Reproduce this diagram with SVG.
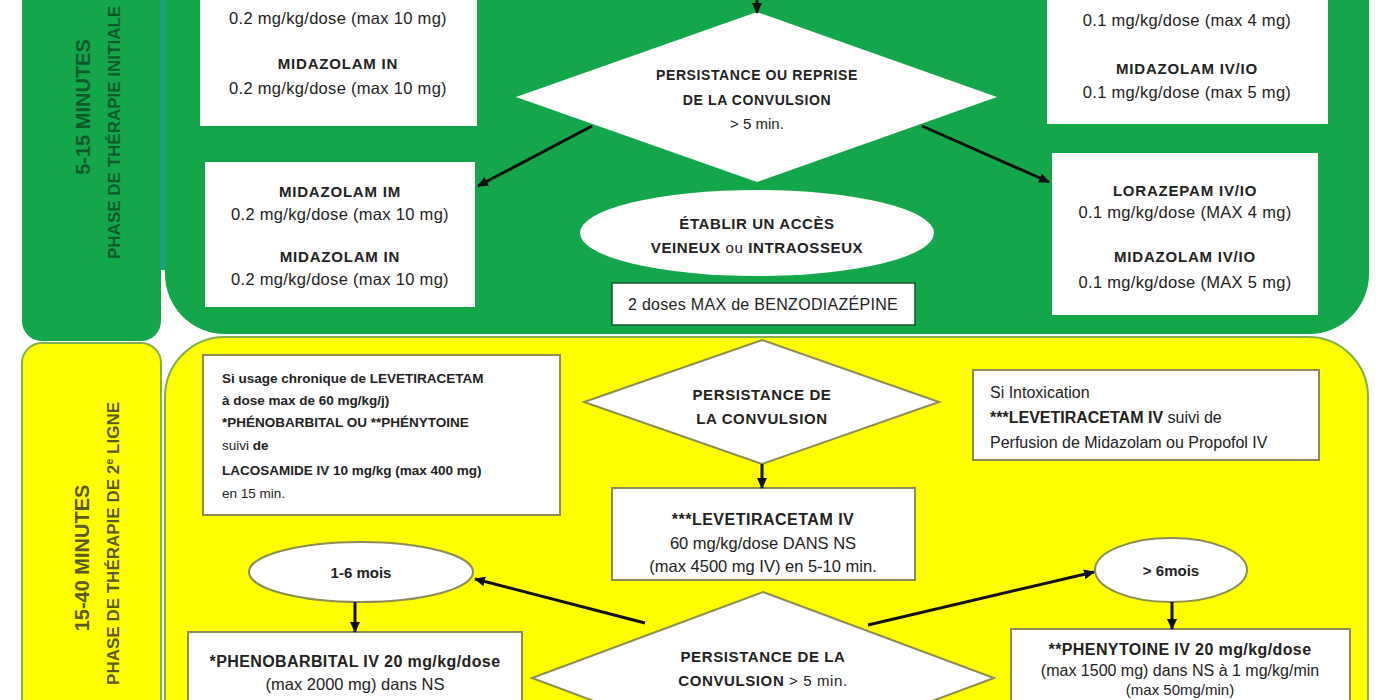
<svg xmlns="http://www.w3.org/2000/svg" width="1400" height="700" viewBox="0 0 1400 700">
<defs>
<marker id="ah" markerUnits="userSpaceOnUse" markerWidth="12" markerHeight="12" refX="10" refY="6" orient="auto">
<path d="M0,1 L11,6 L0,11 z" fill="#111"/>
</marker>
<style>
.t{font-family:"Liberation Sans",Arial,sans-serif;fill:#222;text-anchor:middle}
.b{font-weight:bold;font-size:15px;letter-spacing:0.8px}
.d{font-size:16.5px;letter-spacing:0.3px}
.q{font-weight:bold;font-size:14px;letter-spacing:0.6px}
.m{font-size:16px;letter-spacing:0.3px}
.l{font-family:"Liberation Sans",Arial,sans-serif;fill:#222;font-size:13.5px;font-weight:bold}
.r{font-family:"Liberation Sans",Arial,sans-serif;fill:#222;font-size:16px}
.lab{font-family:"Liberation Sans",Arial,sans-serif;font-weight:bold;font-size:20px}
.wb{fill:#fff}
.yb{fill:#fff;stroke:#8c8c55;stroke-width:2}
.yo{fill:#fff;stroke:#8c8c55;stroke-width:2}
.con{stroke:#111;stroke-width:3;fill:none;marker-end:url(#ah)}
</style>
</defs>
<rect width="1400" height="700" fill="#fff"/>

<!-- green phase -->
<g id="phase1">
<rect x="158" y="-10" width="9" height="280" fill="#1f9a94"/>
<rect x="22" y="-30" width="139" height="371" rx="20" fill="#14a64b"/>
<path d="M165,-10 H1369 V274 A60,60 0 0 1 1309,334 H225 A60,60 0 0 1 165,274 Z" fill="#14a64b"/>
<text class="lab" fill="#0c5a2b" text-anchor="middle" transform="translate(83,107) rotate(-90)" y="7">5-15 MINUTES</text>
<text class="lab" fill="#0c5a2b" style="font-size:17px" transform="translate(114,259) rotate(-90)" y="6">PHASE DE THÉRAPIE INITIALE</text>
</g>

<g id="box-im-in-1">
<rect class="wb" x="200" y="-10" width="277" height="136"/>
<text class="t b" x="338" y="-1">MIDAZOLAM IM</text>
<text class="t d" x="338" y="24">0.2 mg/kg/dose (max 10 mg)</text>
<text class="t b" x="338" y="69">MIDAZOLAM IN</text>
<text class="t d" x="338" y="94">0.2 mg/kg/dose (max 10 mg)</text>
</g>
<g id="box-iv-1">
<rect class="wb" x="1047" y="-10" width="281" height="134"/>
<text class="t b" x="1187" y="-1">LORAZEPAM IV/IO</text>
<text class="t d" x="1187" y="26">0.1 mg/kg/dose (max 4 mg)</text>
<text class="t b" x="1187" y="74">MIDAZOLAM IV/IO</text>
<text class="t d" x="1187" y="98">0.1 mg/kg/dose (max 5 mg)</text>
</g>
<g id="dec1">
<polygon points="757,12 997,97 757,182 516,97" fill="#fff"/>
<text class="t q" x="757" y="80">PERSISTANCE OU REPRISE</text>
<text class="t q" x="757" y="105">DE LA CONVULSION</text>
<text class="t" x="757" y="129" style="font-size:15px">&gt; 5 min.</text>
</g>
<g id="box-im-in-2">
<rect class="wb" x="205" y="162" width="270" height="145"/>
<text class="t b" x="340" y="197">MIDAZOLAM IM</text>
<text class="t d" x="340" y="220">0.2 mg/kg/dose (max 10 mg)</text>
<text class="t b" x="340" y="262">MIDAZOLAM IN</text>
<text class="t d" x="340" y="285">0.2 mg/kg/dose (max 10 mg)</text>
</g>
<g id="box-iv-2">
<rect class="wb" x="1052" y="153" width="266" height="162"/>
<text class="t b" x="1185" y="196">LORAZEPAM IV/IO</text>
<text class="t d" x="1185" y="218">0.1 mg/kg/dose (MAX 4 mg)</text>
<text class="t b" x="1185" y="262">MIDAZOLAM IV/IO</text>
<text class="t d" x="1185" y="288">0.1 mg/kg/dose (MAX 5 mg)</text>
</g>
<g id="access">
<ellipse cx="757" cy="233" rx="177" ry="43" fill="#fff"/>
<text class="t q" x="757" y="229" style="font-size:15px">ÉTABLIR UN ACCÈS</text>
<text class="t q" x="757" y="253" style="font-size:15px">VEINEUX <tspan style="font-weight:normal">ou</tspan> INTRAOSSEUX</text>
</g>
<g id="max-benzo">
<rect x="612" y="283" width="303" height="42" fill="#fff" stroke="#0c5a2b" stroke-width="1.5"/>
<text class="t m" x="763" y="310">2 doses MAX de BENZODIAZÉPINE</text>
</g>

<!-- yellow phase -->
<g id="phase2">
<path d="M22,363 A20,20 0 0 1 42,343 H141 A20,20 0 0 1 161,363 V710 H22 Z" fill="#ffff00" stroke="#7fb04a" stroke-width="2"/>
<path d="M165,710 V397 A60,60 0 0 1 225,337 H1308 A60,60 0 0 1 1368,397 V710" fill="#ffff00" stroke="#7fb04a" stroke-width="2"/>
<text class="lab" fill="#5a5a10" text-anchor="middle" transform="translate(82,558) rotate(-90)" y="7">15-40 MINUTES</text>
<text class="lab" fill="#5a5a10" style="font-size:17px" text-anchor="end" transform="translate(113,402) rotate(-90)" y="6">PHASE DE THÉRAPIE DE 2<tspan style="font-size:11px" dy="-6">e</tspan><tspan dy="6"> LIGNE</tspan></text>
</g>
<g id="chronic">
<rect class="yb" x="203" y="355" width="357" height="160"/>
<text class="l" x="222" y="383">Si usage chronique de LEVETIRACETAM</text>
<text class="l" x="222" y="405">à dose max de 60 mg/kg/j)</text>
<text class="l" x="222" y="427">*PHÉNOBARBITAL OU **PHÉNYTOINE</text>
<text class="l" x="222" y="450"><tspan style="font-weight:normal">suivi</tspan>  de</text>
<text class="l" x="222" y="475">LACOSAMIDE IV 10 mg/kg (max 400 mg)</text>
<text class="l" x="222" y="498" style="font-weight:normal">en 15 min.</text>
</g>
<g id="dec2">
<polygon points="762,340 939,402 762,464 584,402" fill="#fff" stroke="#8c8c55" stroke-width="2"/>
<text class="t q" x="762" y="400" style="font-size:15px">PERSISTANCE DE</text>
<text class="t q" x="762" y="424" style="font-size:15px">LA CONVULSION</text>
</g>
<g id="intox">
<rect class="yb" x="973" y="370" width="346" height="90"/>
<text class="r" x="990" y="398">Si Intoxication</text>
<text class="r" x="990" y="423"><tspan style="font-weight:bold">***LEVETIRACETAM IV</tspan> suivi de</text>
<text class="r" x="990" y="448">Perfusion de Midazolam ou Propofol IV</text>
</g>
<g id="leve">
<rect class="yb" x="612" y="488" width="303" height="92"/>
<text class="t" x="763" y="525" style="font-size:16px;font-weight:bold;letter-spacing:0.5px">***LEVETIRACETAM IV</text>
<text class="t" x="763" y="549" style="font-size:16.5px">60 mg/kg/dose DANS NS</text>
<text class="t" x="763" y="572" style="font-size:16.5px">(max 4500 mg IV) en 5-10 min.</text>
</g>
<g id="age1">
<ellipse class="yo" cx="361" cy="572" rx="112" ry="30"/>
<text class="t" x="361" y="578" style="font-size:15px;font-weight:bold">1-6 mois</text>
</g>
<g id="age2">
<ellipse class="yo" cx="1171" cy="570" rx="76" ry="32"/>
<text class="t" x="1171" y="576" style="font-size:15px;font-weight:bold">&gt; 6mois</text>
</g>
<g id="pheno">
<rect class="yb" x="188" y="632" width="334" height="80"/>
<text class="t" x="355" y="667" style="font-size:16px;font-weight:bold;letter-spacing:0.4px">*PHENOBARBITAL IV 20 mg/kg/dose</text>
<text class="t" x="355" y="690" style="font-size:16.5px">(max 2000 mg) dans NS</text>
</g>
<g id="dec3">
<polygon points="763,592 994,678 763,764 532,678" fill="#fff" stroke="#8c8c55" stroke-width="2"/>
<text class="t q" x="763" y="662" style="font-size:15px">PERSISTANCE DE LA</text>
<text class="t q" x="763" y="686" style="font-size:15px">CONVULSION <tspan style="font-weight:normal">&gt; 5 min.</tspan></text>
</g>
<g id="pheny">
<rect class="yb" x="1011" y="629" width="339" height="80"/>
<text class="t" x="1180" y="655" style="font-size:16px;font-weight:bold;letter-spacing:0.4px">**PHENYTOINE IV 20 mg/kg/dose</text>
<text class="t" x="1180" y="676" style="font-size:16px">(max 1500 mg) dans NS à 1 mg/kg/min</text>
<text class="t" x="1180" y="695" style="font-size:15px">(max 50mg/min)</text>
</g>

<g id="connectors">
<line class="con" x1="757" y1="-5" x2="757" y2="13"/>
<line class="con" x1="592" y1="126" x2="478" y2="186"/>
<line class="con" x1="922" y1="126" x2="1049" y2="182"/>
<line class="con" x1="762" y1="464" x2="762" y2="488"/>
<line class="con" x1="645" y1="623" x2="475" y2="579"/>
<line class="con" x1="868" y1="625" x2="1094" y2="572"/>
<line class="con" x1="355" y1="602" x2="355" y2="632"/>
<line class="con" x1="1172" y1="602" x2="1172" y2="629"/>
</g>
</svg>
